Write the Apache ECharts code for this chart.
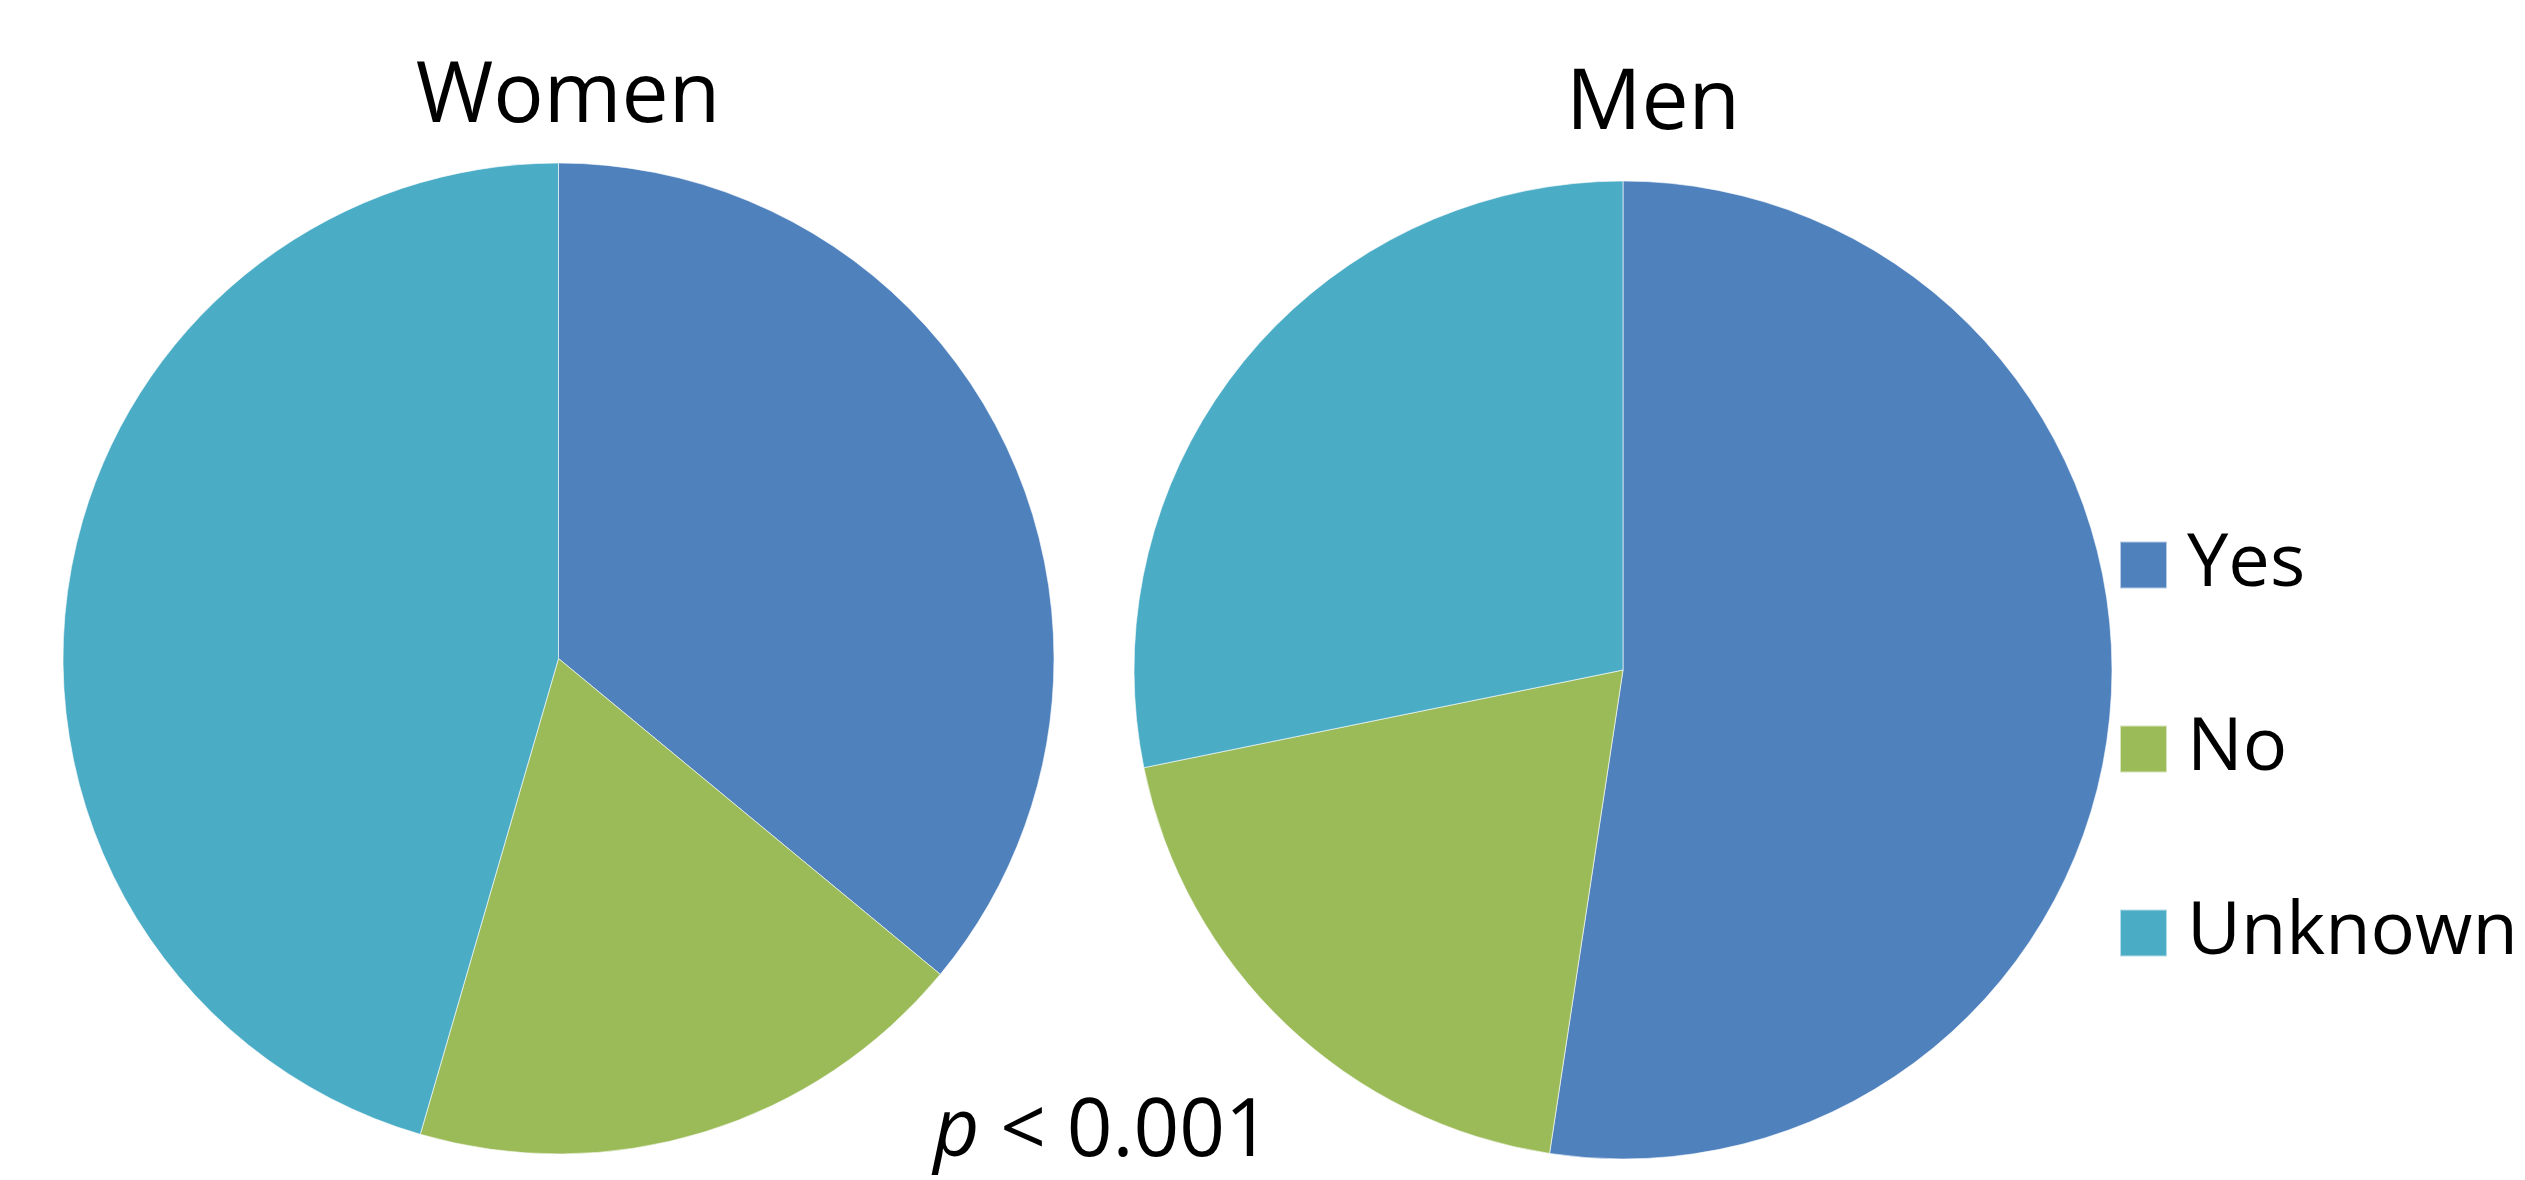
<!DOCTYPE html>
<html>
<head>
<meta charset="utf-8">
<title>Women / Men</title>
<script src="https://cdn.jsdelivr.net/npm/echarts@6/dist/echarts.min.js"></script>
<style>
  html, body { margin: 0; padding: 0; background: #ffffff; }
  #chart { width: 2525px; height: 1180px; }
</style>
</head>
<body>
<div id="chart"></div>
<script>
// Answer categories shared by both groups
const categories = ['Yes', 'No', 'Unknown'];
// Share of each answer (%)
const womenValues = [36.0, 18.5, 45.5];
const menValues = [52.4, 19.4, 28.2];
const groupTitles = ['Women', 'Men'];
const pValueText = ' < 0.001';

const palette = ['#4F81BD', '#9BBB59', '#4BACC6'];
const fontFamily = '"Open Sans", "Noto Sans", sans-serif';

function toData(values) {
  return categories.map((name, i) => ({ name: name, value: values[i] }));
}

const chart = echarts.init(document.getElementById('chart'), null, { renderer: 'canvas' });

const pieCommon = {
  type: 'pie',
  startAngle: 90,
  clockwise: true,
  label: { show: false },
  labelLine: { show: false },
  emphasis: { disabled: true },
  silent: true,
  animation: false,
  itemStyle: { borderColor: 'rgba(255,255,255,0.6)', borderWidth: 1 }
};

const titleText = { fontFamily: fontFamily, fontSize: 84, fontWeight: 'normal', color: '#000', lineHeight: 84 };

chart.setOption({
  backgroundColor: '#ffffff',
  color: palette,
  animation: false,
  title: [
    {
      text: groupTitles[0],
      left: 563, top: 51, textAlign: 'center',
      textStyle: titleText
    },
    {
      text: groupTitles[1],
      left: 1648, top: 58, textAlign: 'center',
      textStyle: titleText
    },
    {
      text: '{i|p}{n|' + pValueText + '}',
      left: 1097, top: 1088, textAlign: 'center',
      textStyle: {
        fontWeight: 'normal',
        rich: {
          i: { fontFamily: fontFamily, fontSize: 80, fontStyle: 'italic', fontWeight: 'normal', color: '#000', lineHeight: 80 },
          n: { fontFamily: fontFamily, fontSize: 80, fontWeight: 'normal', color: '#000', lineHeight: 80 }
        }
      }
    }
  ],
  legend: {
    orient: 'vertical',
    left: 2119,
    top: 528,
    padding: 0,
    data: categories,
    icon: 'rect',
    itemWidth: 47,
    itemHeight: 47,
    itemGap: 110,
    selectedMode: false,
    textStyle: {
      fontFamily: fontFamily,
      fontSize: 74,
      color: '#000',
      padding: [0, 0, 0, 15]
    }
  },
  series: [
    Object.assign({}, pieCommon, {
      name: groupTitles[0],
      center: [558.5, 658.5],
      radius: 495.5,
      data: toData(womenValues)
    }),
    Object.assign({}, pieCommon, {
      name: groupTitles[1],
      center: [1623, 670],
      radius: 489,
      data: toData(menValues)
    })
  ]
});
</script>
</body>
</html>
